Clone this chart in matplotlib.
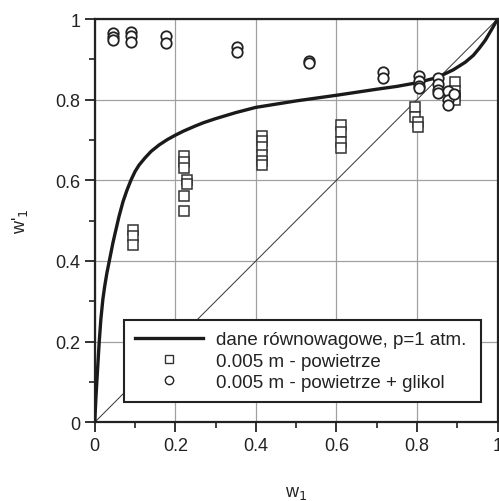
import numpy as np
import matplotlib.pyplot as plt
from matplotlib.ticker import MultipleLocator

plt.rcParams['font.family'] = ['Liberation Sans', 'DejaVu Sans']

# equilibrium curve
eq_x = [0.0, 0.001, 0.003, 0.005, 0.008, 0.011, 0.015, 0.02, 0.025, 0.03, 0.037,
        0.045, 0.05, 0.06, 0.07, 0.08,
        0.09, 0.1, 0.11, 0.125, 0.14, 0.16, 0.18, 0.2, 0.22, 0.25, 0.27, 0.3,
        0.35, 0.4, 0.5, 0.6, 0.7, 0.75, 0.8, 0.85, 0.89, 0.92, 0.94, 0.955,
        0.97, 0.98, 0.99, 1.0]
eq_y = [0.0, 0.025, 0.065, 0.1, 0.15, 0.2, 0.255, 0.305, 0.34, 0.37, 0.405,
        0.445, 0.467, 0.51, 0.547, 0.576,
        0.601, 0.622, 0.638, 0.656, 0.672, 0.688, 0.701, 0.712, 0.722, 0.735, 0.743, 0.753,
        0.768, 0.781, 0.797, 0.811, 0.826, 0.833, 0.842, 0.855, 0.874, 0.893, 0.91, 0.928,
        0.948, 0.965, 0.982, 1.0]

# 0.005 m - powietrze (squares)
sq_x = [0.094, 0.094, 0.094,
        0.222, 0.222, 0.222, 0.23, 0.23, 0.222, 0.222,
        0.414, 0.414, 0.414, 0.414, 0.414, 0.414,
        0.612, 0.612, 0.612, 0.612,
        0.794, 0.794, 0.802, 0.802,
        0.895, 0.895, 0.895, 0.895]
sq_y = [0.477, 0.461, 0.44,
        0.661, 0.645, 0.63, 0.602, 0.59, 0.561, 0.523,
        0.71, 0.698, 0.682, 0.662, 0.648, 0.638,
        0.738, 0.72, 0.695, 0.68,
        0.781, 0.757, 0.744, 0.732,
        0.844, 0.822, 0.81, 0.80]

# 0.005 m - powietrze + glikol (circles)
ci_x = [0.045, 0.045, 0.045,
        0.089, 0.089, 0.089,
        0.177, 0.177,
        0.354, 0.354,
        0.531, 0.531,
        0.715, 0.715,
        0.804, 0.804, 0.804, 0.804,
        0.851, 0.851, 0.851, 0.851,
        0.876, 0.876, 0.876, 0.893]
ci_y = [0.965, 0.956, 0.949,
        0.967, 0.957, 0.944,
        0.957, 0.941,
        0.93, 0.918,
        0.897, 0.891,
        0.869, 0.854,
        0.858, 0.847, 0.834, 0.83,
        0.855, 0.839, 0.825, 0.816,
        0.822, 0.80, 0.787, 0.815]

ticks = [0, 0.2, 0.4, 0.6, 0.8, 1]
tick_labels = ['0', '0.2', '0.4', '0.6', '0.8', '1']

fig = plt.figure(figsize=(4.99, 5.02), dpi=100)
ax = fig.add_axes([0.19, 0.157, 0.807, 0.803])

ax.grid(True, which='major', color='#a0a0a0', lw=0.9)
ax.plot([0, 1], [0, 1], color='#333333', lw=0.7, zorder=2)
ax.plot(eq_x, eq_y, color='#1a1a1a', lw=2.4, zorder=3,
        label='dane równowagowe, p=1 atm.')
ax.plot(sq_x, sq_y, ls='none', marker='s', ms=7, mfc='white', mec='#333333',
        mew=1.1, zorder=4, label='0.005 m - powietrze')
ax.plot(ci_x, ci_y, ls='none', marker='o', ms=7.5, mfc='white', mec='#222222',
        mew=1.3, zorder=4, label='0.005 m - powietrze + glikol')

ax.set_xlim(0, 1)
ax.set_ylim(0, 1)
ax.set_xticks(ticks)
ax.set_xticklabels(tick_labels)
ax.set_yticks(ticks)
ax.set_yticklabels(tick_labels)
ax.xaxis.set_minor_locator(MultipleLocator(0.1))
ax.yaxis.set_minor_locator(MultipleLocator(0.1))
ax.tick_params(which='major', direction='out', length=7, width=1.3,
               labelsize=13, color='#222222', labelcolor='#222222')
ax.tick_params(which='minor', direction='out', length=4, width=1.2, color='#222222')
for s in ax.spines.values():
    s.set_linewidth(1.6)
    s.set_color('#222222')

ax.set_xlabel('w$_1$', fontsize=13, labelpad=22, color='#222222')
ax.set_ylabel("w'$_1$", fontsize=13, labelpad=18, color='#222222')

leg = ax.legend(loc='lower left', bbox_to_anchor=(0.072, 0.05, 0.888, 0.23),
                mode='expand', fontsize=13.5, fancybox=False, framealpha=1,
                edgecolor='#222222', borderpad=0.6, labelspacing=0.22,
                handlelength=3.6, handletextpad=0.7, borderaxespad=0)
leg.get_frame().set_linewidth(1.5)
for t in leg.get_texts():
    t.set_color('#222222')
for h in leg.legend_handles[1:]:
    h.set_markersize(6)
    h.set_markeredgewidth(1.0)

fig.savefig('out.png', dpi=100)
